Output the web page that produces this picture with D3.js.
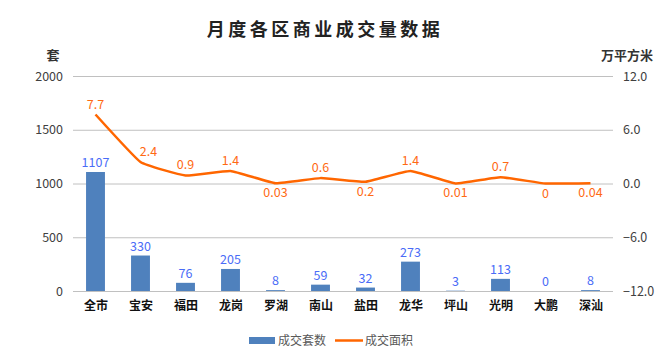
<!DOCTYPE html>
<html><head><meta charset="utf-8">
<script src="https://cdn.jsdelivr.net/npm/d3@7"></script>
<style>body{margin:0;background:#fff}svg{display:block}text{font-family:"Noto Sans CJK SC","Microsoft YaHei",sans-serif}</style>
</head><body><svg id="c" width="664" height="355"></svg>
<script>
const categories = ["全市","宝安","福田","龙岗","罗湖","南山","盐田","龙华","坪山","光明","大鹏","深汕"];
const units = [1107,330,76,205,8,59,32,273,3,113,0,8];
const area = [7.7,2.4,0.9,1.4,0.03,0.6,0.2,1.4,0.01,0.7,0,0.04];
const areaLabelPos = ["up","up","up","up","down","up","down","up","down","up","down","down"];
const leftTicks = [0,500,1000,1500,2000];
const rightTicks = [-12,-6,0,6,12];
const title = "月度各区商业成交量数据";
const leftUnit = "套", rightUnit = "万平方米";
const legendNames = ["成交套数","成交面积"];

const svg = d3.select("#c");
const L = 73, R = 613, T = 76, B = 291;
const x = d3.scaleBand().domain(categories).range([L, R]).paddingInner(0.58).paddingOuter(0.29);
const xc = d3.scalePoint().domain(categories).range([L, R]).padding(0.5);
const yL = d3.scaleLinear().domain([0, 2000]).range([B, T]);
const yR = d3.scaleLinear().domain([-12, 12]).range([B, T]);

svg.append("text").attr("x", 325).attr("y", 36).attr("text-anchor", "middle")
  .attr("font-size", 18).attr("font-weight", "bold").attr("letter-spacing", 3.5).attr("fill", "#222").text(title);

// gridlines
svg.append("g").selectAll("line").data(leftTicks).join("line")
  .attr("x1", L).attr("x2", R).attr("y1", d => yL(d) + 0.5).attr("y2", d => yL(d) + 0.5)
  .attr("stroke", "#c0c0c0").attr("stroke-width", 1);

// left axis
const gl = svg.append("g").attr("transform", `translate(${L},0)`)
  .call(d3.axisLeft(yL).tickValues(leftTicks).tickFormat(d3.format("d")).tickSize(0).tickPadding(10));
gl.select(".domain").remove();
gl.selectAll("text").attr("font-size", 12.5).attr("fill", "#404040");

const gr = svg.append("g").attr("transform", `translate(${R},0)`)
  .call(d3.axisRight(yR).tickValues(rightTicks).tickFormat(d3.format(".1f")).tickSize(0).tickPadding(10));
gr.select(".domain").remove();
gr.selectAll("text").attr("font-size", 12.5).attr("fill", "#404040");

svg.append("text").attr("x", 53).attr("y", 60).attr("text-anchor", "middle").attr("font-size", 13).attr("font-weight", "bold").attr("fill", "#333").text(leftUnit);
svg.append("text").attr("x", 627).attr("y", 60).attr("text-anchor", "middle").attr("font-size", 13).attr("font-weight", "bold").attr("fill", "#333").text(rightUnit);

// x labels
const gx = svg.append("g").attr("transform", `translate(0,${B})`)
  .call(d3.axisBottom(xc).tickSize(0).tickPadding(10));
gx.select(".domain").remove();
gx.selectAll("text").attr("font-size", 12).attr("font-weight", "bold").attr("fill", "#111");

// bars
svg.append("g").selectAll("rect").data(categories).join("rect")
  .attr("x", d => x(d)).attr("width", x.bandwidth())
  .attr("y", (d, i) => yL(units[i])).attr("height", (d, i) => B - yL(units[i]))
  .attr("fill", "#4f81bd");
svg.append("g").selectAll("text").data(categories).join("text")
  .attr("x", d => xc(d)).attr("y", (d, i) => yL(units[i]) - 5)
  .attr("text-anchor", "middle").attr("font-size", 12.5).attr("fill", "#4a6cf7")
  .text((d, i) => units[i]);

// line
const line = d3.line().x(d => xc(d[0])).y(d => yR(d[1])).curve(d3.curveCardinal.tension(0.65));
svg.append("path").datum(categories.map((c, i) => [c, area[i]])).attr("d", line)
  .attr("fill", "none").attr("stroke", "#ff6600").attr("stroke-width", 2.5);
svg.append("g").selectAll("text").data(categories).join("text")
  .attr("x", (d, i) => xc(d) + (i === 1 ? 8 : 0))
  .attr("y", (d, i) => yR(area[i]) + (areaLabelPos[i] === "up" ? -6 : 14))
  .attr("text-anchor", "middle").attr("font-size", 12.5).attr("fill", "#ff6a13")
  .text((d, i) => area[i]);

// legend
const lg = svg.append("g");
lg.append("rect").attr("x", 249).attr("y", 337).attr("width", 26).attr("height", 7).attr("fill", "#4f81bd");
lg.append("text").attr("x", 278).attr("y", 345).attr("font-size", 12).attr("fill", "#595959").text(legendNames[0]);
lg.append("line").attr("x1", 335).attr("x2", 363).attr("y1", 340.5).attr("y2", 340.5).attr("stroke", "#ff6600").attr("stroke-width", 2.5);
lg.append("text").attr("x", 365).attr("y", 345).attr("font-size", 12).attr("fill", "#595959").text(legendNames[1]);
</script></body></html>
